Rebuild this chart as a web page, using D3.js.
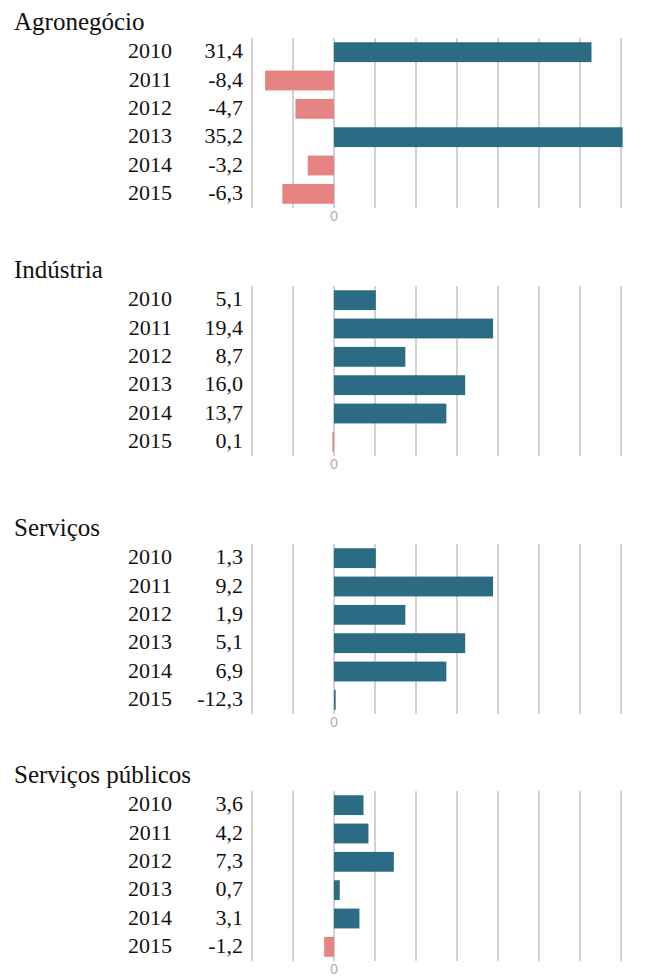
<!DOCTYPE html>
<html>
<head>
<meta charset="utf-8">
<script src="https://cdn.jsdelivr.net/npm/d3@7/dist/d3.min.js"></script>
<style>
  body { margin: 0; background: #fff; }
  svg { display: block; }
</style>
</head>
<body>
<div id="chart"></div>
<script>
'use strict';

var years = ['2010', '2011', '2012', '2013', '2014', '2015'];
var sectors = ['Agronegócio', 'Indústria', 'Serviços', 'Serviços públicos'];

// printed values
var agroLabels = ['31,4', '-8,4', '-4,7', '35,2', '-3,2', '-6,3'];
var industriaLabels = ['5,1', '19,4', '8,7', '16,0', '13,7', '0,1'];
var servicosLabels = ['1,3', '9,2', '1,9', '5,1', '6,9', '-12,3'];
var publicosLabels = ['3,6', '4,2', '7,3', '0,7', '3,1', '-1,2'];

// bar lengths as drawn in the original
var agroBars = [31.4, -8.4, -4.7, 35.2, -3.2, -6.3];
var industriaBars = [5.1, 19.4, 8.7, 16.0, 13.7, -0.2];
var servicosBars = [5.1, 19.4, 8.7, 16.0, 13.7, 0.2];
var publicosBars = [3.6, 4.2, 7.3, 0.7, 3.1, -1.2];

var gridTicks = [-10, -5, 0, 5, 10, 15, 20, 25, 30, 35];

var panels = [
    { title: sectors[0], labels: agroLabels, bars: agroBars },
    { title: sectors[1], labels: industriaLabels, bars: industriaBars },
    { title: sectors[2], labels: servicosLabels, bars: servicosBars },
    { title: sectors[3], labels: publicosLabels, bars: publicosBars }
];
var panelTops = [38, 286, 544, 791];

var width = 653;
var height = 976;
var serif = '"Liberation Serif", "DejaVu Serif", serif';

var svg = d3.select('#chart')
    .append('svg')
    .attr('width', width)
    .attr('height', height);

var x = d3.scaleLinear()
    .domain([-10, 35])
    .range([252, 621]);

var y = d3.scaleBand()
    .domain(years)
    .range([0, 170])
    .paddingInner(0.3)
    .paddingOuter(0.15);

panels.forEach(function(p, i) {
    var g = svg.append('g')
        .attr('transform', 'translate(0,' + panelTops[i] + ')');

    g.append('text')
        .attr('x', 14)
        .attr('y', -8)
        .style('font-family', serif)
        .style('font-size', '25px')
        .style('fill', '#111')
        .text(p.title);

    g.selectAll('.grid')
        .data(gridTicks)
        .enter()
        .append('line')
        .attr('class', 'grid')
        .attr('x1', function(d) { return x(d); })
        .attr('x2', function(d) { return x(d); })
        .attr('y1', 0)
        .attr('y2', 170)
        .style('stroke', '#d2d2d2')
        .style('stroke-width', 2);

    g.selectAll('.bar')
        .data(p.bars)
        .enter()
        .append('rect')
        .attr('class', 'bar')
        .attr('x', function(d) { return x(Math.min(0, d)); })
        .attr('y', function(d, j) { return y(years[j]); })
        .attr('width', function(d) { return Math.abs(x(d) - x(0)); })
        .attr('height', y.bandwidth())
        .style('fill', function(d) { return d < 0 ? '#e68383' : '#2c6b84'; });

    g.selectAll('.year')
        .data(years)
        .enter()
        .append('text')
        .attr('class', 'year')
        .attr('x', 172)
        .attr('y', function(d) { return y(d) + y.bandwidth() / 2 + 6; })
        .attr('text-anchor', 'end')
        .style('font-family', serif)
        .style('font-size', '22px')
        .style('fill', '#111')
        .text(function(d) { return d; });

    g.selectAll('.value')
        .data(p.labels)
        .enter()
        .append('text')
        .attr('class', 'value')
        .attr('x', 243)
        .attr('y', function(d, j) { return y(years[j]) + y.bandwidth() / 2 + 6; })
        .attr('text-anchor', 'end')
        .style('font-family', serif)
        .style('font-size', '22px')
        .style('fill', '#111')
        .text(function(d) { return d; });

    g.append('text')
        .attr('x', x(0))
        .attr('y', 183)
        .attr('text-anchor', 'middle')
        .style('font-family', 'Lato, sans-serif')
        .style('font-size', '13px')
        .style('fill', '#aaa')
        .text('0');
});
</script>
</body>
</html>
